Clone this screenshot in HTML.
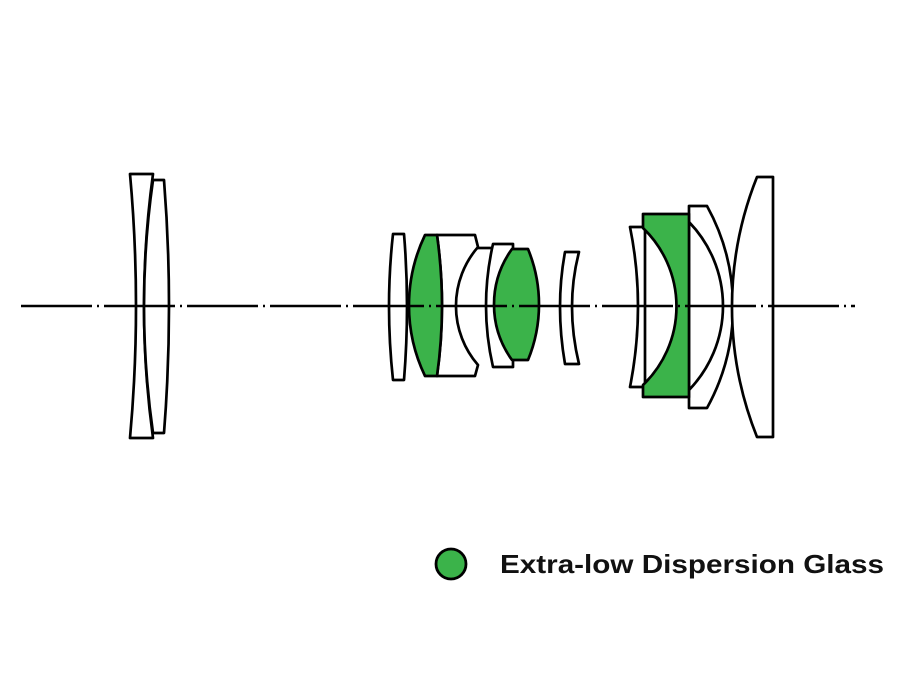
<!DOCTYPE html>
<html><head><meta charset="utf-8"><style>
html,body{margin:0;padding:0;background:#fff;}
svg{display:block;}
</style></head><body>
<svg width="900" height="673" viewBox="0 0 900 673" xmlns="http://www.w3.org/2000/svg">
<rect width="900" height="673" fill="#fff"/>
<g stroke="#000" stroke-width="2.7" stroke-linejoin="round" fill="#fff">
  <path d="M130,174 L153,174 Q135,306 153,438 L130,438 Q142,306 130,174 Z"/>
  <path d="M153,180 L164,180 Q174,306 164,433 L153,433 Q135,306 153,180 Z"/>
  <path d="M393,234 L404,234 Q410,306 404,380 L393,380 Q385,306 393,234 Z"/>
  <path d="M437,235 L475,235 L478,247 A90 90 0 0 0 478,365 L475,376 L437,376 Q447,306 437,235 Z"/>
  <line x1="477" y1="248" x2="492" y2="248"/>
  <path d="M493,244 L513,244 L513,367 L493,367 Q479,306 493,244 Z"/>
  <path d="M565,252 L579,252 Q565,306 579,364 L565,364 Q555,306 565,252 Z"/>
  <path d="M630,227 L645,227 L645,387 L630,387 Q646,306 630,227 Z"/>
  <path d="M689,206 L707,206 A209 209 0 0 1 707,408 L689,408 Z"/>
  <path d="M689,222 A120.8 120.8 0 0 1 689,390" fill="none"/>
  <path d="M757,177 L773,177 L773,437 L757,437 A350 350 0 0 1 757,177 Z"/>
</g>
<g stroke="#000" stroke-width="2.7" stroke-linejoin="round" fill="#3bb34a">
  <path d="M425,235 L437,235 Q447,306 437,376 L425,376 A163 163 0 0 1 425,235 Z"/>
  <path d="M512,249 L528,249 A145.5 145.5 0 0 1 528,360 L512,360 A94.6 94.6 0 0 1 512,249 Z"/>
  <path d="M643,214 L689,214 L689,397 L643,397 L643,385 A108.8 108.8 0 0 0 643,228 Z"/>
</g>
<line x1="21" y1="306" x2="855" y2="306" stroke="#000" stroke-width="2.4" stroke-dasharray="71 5 2 5"/>
<circle cx="451" cy="564" r="15" fill="#3bb34a" stroke="#000" stroke-width="2.8"/>
<text x="500" y="573" font-family="Liberation Sans, sans-serif" font-weight="bold" font-size="26" fill="#111" textLength="384" lengthAdjust="spacingAndGlyphs">Extra-low Dispersion Glass</text>
</svg>
</body></html>
